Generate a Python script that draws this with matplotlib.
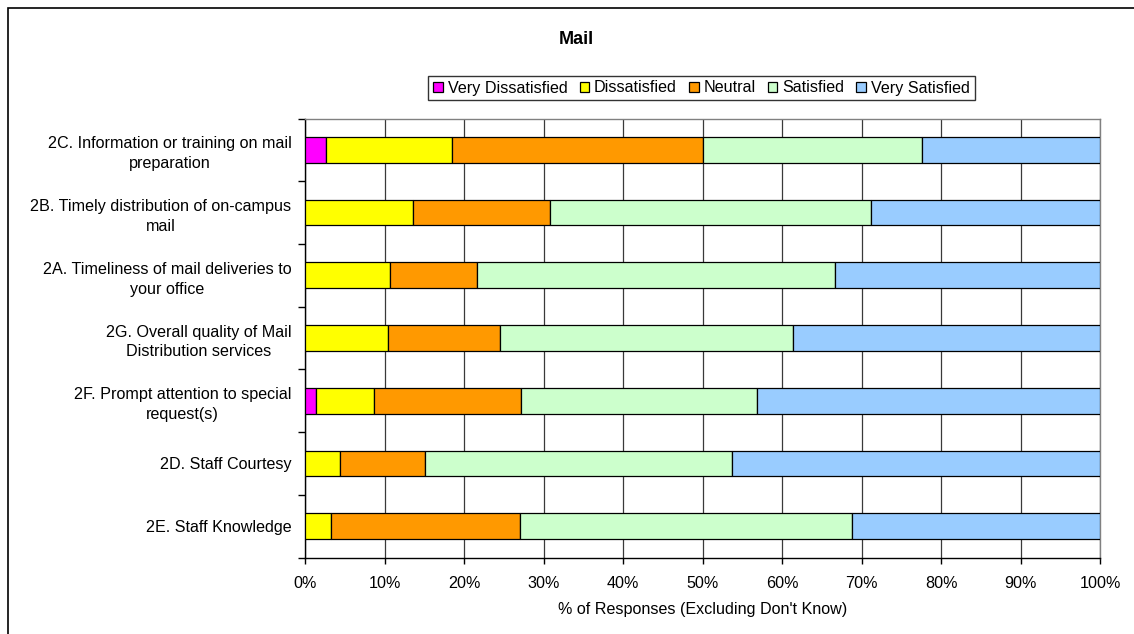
import matplotlib
matplotlib.use("Agg")
import matplotlib.pyplot as plt
from matplotlib.patches import Rectangle
import numpy as np

plt.rcParams['font.family'] = ['Liberation Sans', 'DejaVu Sans']

# Survey items, top to bottom
categories = [
    "2C. Information or training on mail\npreparation",
    "2B. Timely distribution of on-campus\nmail",
    "2A. Timeliness of mail deliveries to\nyour office",
    "2G. Overall quality of Mail\nDistribution services",
    "2F. Prompt attention to special\nrequest(s)",
    "2D. Staff Courtesy",
    "2E. Staff Knowledge",
]

# Share of responses (%) per rating level, same order as categories
very_dissatisfied = [2.6, 0.0, 0.0, 0.0, 1.3, 0.0, 0.0]
dissatisfied      = [15.9, 13.5, 10.7, 10.4, 7.3, 4.3, 3.2]
neutral           = [31.5, 17.3, 10.9, 14.1, 18.5, 10.8, 23.8]
satisfied         = [27.6, 40.4, 45.1, 36.9, 29.7, 38.6, 41.8]
very_satisfied    = [22.4, 28.8, 33.3, 38.6, 43.2, 46.3, 31.2]

series_names = ["Very Dissatisfied", "Dissatisfied", "Neutral", "Satisfied", "Very Satisfied"]
series_colors = ["#FF00FF", "#FFFF00", "#FF9900", "#CCFFCC", "#99CCFF"]
series_values = [very_dissatisfied, dissatisfied, neutral, satisfied, very_satisfied]

x_ticks = np.arange(0, 101, 10)
x_ticklabels = [f"{t}%" for t in x_ticks]

FS = 11.6

W, H = 1134, 634
fig = plt.figure(figsize=(W / 100, H / 100), dpi=100)
fig.patch.set_facecolor("white")

# chart-area frame (top and left edges show, the rest runs off the canvas)
fig.patches.append(Rectangle((8 / W, -0.05), 1.2, 1 - 7.5 / H + 0.05,
                             transform=fig.transFigure, fill=False,
                             edgecolor="black", linewidth=1.2))

ax = fig.add_axes([305.4 / W, 1 - 557.5 / H, (1100 - 305.4) / W, (557.5 - 118.5) / H])

y = np.arange(len(categories))
left = np.zeros(len(categories))
handles = []
for name, color, vals in zip(series_names, series_colors, series_values):
    vals = np.array(vals)
    h = ax.barh(y, vals, left=left, height=0.41, color=color,
                edgecolor="black", linewidth=0.9, label=name, zorder=3)
    handles.append(h)
    left = left + vals

ax.set_xlim(0, 100)
ax.set_ylim(len(categories) - 0.5, -0.5)

ax.set_xticks(x_ticks)
ax.set_xticklabels(x_ticklabels, fontsize=FS)
ax.set_yticks(y)
ax.set_yticklabels(categories, fontsize=FS, multialignment="center", linespacing=1.4)
ax.tick_params(axis="y", length=0, pad=10)
ax.tick_params(axis="x", length=4, width=1, direction="out", pad=9, color="black")

# category boundary ticks on the left axis
ax.set_yticks(np.arange(-0.5, len(categories), 1.0), minor=True)
ax.tick_params(axis="y", which="minor", length=5, width=1, direction="out", color="black")

ax.grid(axis="x", color="#3a3a3a", linewidth=0.9, zorder=0)
ax.set_axisbelow(True)

for side in ("top", "right"):
    ax.spines[side].set_color("#808080")
    ax.spines[side].set_linewidth(1.0)
for side in ("left", "bottom"):
    ax.spines[side].set_color("black")
    ax.spines[side].set_linewidth(1.0)

ax.set_xlabel("% of Responses (Excluding Don't Know)", fontsize=FS, labelpad=8)

fig.text(576 / W, 1 - 39 / H, "Mail", ha="center", va="center",
         fontsize=13, fontweight="bold")

leg = fig.legend(handles=handles, labels=series_names, loc="center",
                 bbox_to_anchor=(701.5 / W, 1 - 88 / H), ncol=5, fontsize=FS,
                 frameon=True, fancybox=False, edgecolor="black",
                 handlelength=0.6, handleheight=0.6, handletextpad=0.3,
                 columnspacing=0.75, borderpad=0.3, borderaxespad=0)
leg.get_frame().set_linewidth(1.0)

fig.savefig("out.png", dpi=100, facecolor="white")
